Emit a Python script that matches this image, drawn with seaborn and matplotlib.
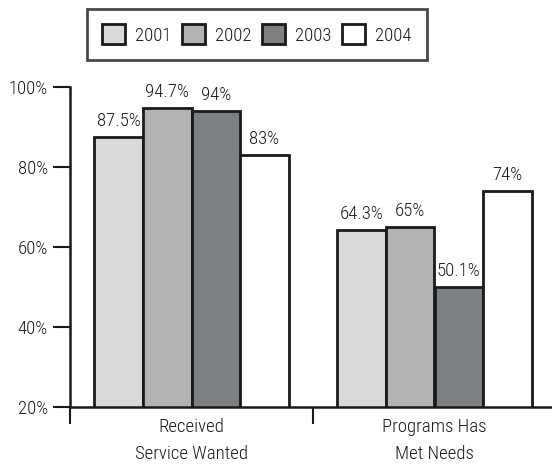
import matplotlib
matplotlib.use("Agg")
import matplotlib.pyplot as plt
from matplotlib import font_manager
from matplotlib.patches import Patch
import seaborn as sns
import pandas as pd

categories = ["Received\nService Wanted", "Programs Has\nMet Needs"]
years = ["2001", "2002", "2003", "2004"]
received = [87.5, 94.7, 94, 83]
met_needs = [64.3, 65, 50.1, 74]
colors = ["#d9d9db", "#b2b3b5", "#7d8083", "#ffffff"]
yticks = [20, 40, 60, 80, 100]

sns.set_theme(style="white")
names = {f.name for f in font_manager.fontManager.ttflist}
preferred = ["Liberation Sans Narrow", "Arial Narrow", "Nimbus Sans Narrow",
             "Helvetica Condensed", "Roboto Condensed", "Archivo Narrow",
             "PT Sans Narrow", "Pragati Narrow", "Open Sans Condensed",
             "Fira Sans Condensed", "IBM Plex Sans Condensed", "Encode Sans Condensed",
             "Asap Condensed", "Barlow Semi Condensed", "Liberation Sans"]
fam = next(n for n in preferred if n in names)
plt.rcParams["font.family"] = [fam, "DejaVu Sans"]
plt.rcParams["font.weight"] = "light"
ink = "#1a1a1a"
fs = 13.5

rows = []
for cat, vals in zip(categories, [received, met_needs]):
    for yr, v in zip(years, vals):
        rows.append({"category": cat, "year": yr, "value": v})
df = pd.DataFrame(rows)

fig = plt.figure(figsize=(5.52, 4.65), dpi=100)
ax = fig.add_axes([70 / 552, 58 / 465, 486 / 552, 320 / 465])

sns.barplot(data=df, x="category", y="value", hue="year", hue_order=years,
            palette=colors, order=categories, width=0.8, saturation=1,
            edgecolor=ink, linewidth=2, legend=False, ax=ax)

for cont in ax.containers:
    ax.bar_label(cont, labels=[f"{v:g}%" for v in cont.datavalues],
                 padding=5, fontsize=fs, color=ink)

ax.set_ylim(20, 100)
ax.set_xlim(-0.5, 1.5)
ax.set_yticks(yticks)
ax.set_yticklabels([f"{t}%" for t in yticks], fontsize=fs, color=ink)
ax.set_xticks([0, 1])
ax.set_xticklabels(categories, fontsize=fs, color=ink, linespacing=1.6)
ax.set_xticks([-0.5, 0.5, 1.5], minor=True)
ax.tick_params(axis="x", which="major", bottom=True, length=0, pad=8)
ax.tick_params(axis="x", which="minor", bottom=True, length=12, width=1.5,
               color=ink, direction="out")
ax.tick_params(axis="y", which="major", left=True, length=12, width=1.5,
               color=ink, direction="out", pad=4)
ax.set_xlabel("")
ax.set_ylabel("")
for side in ["top", "right"]:
    ax.spines[side].set_visible(False)
for side in ["left", "bottom"]:
    ax.spines[side].set_linewidth(1.8)
    ax.spines[side].set_color(ink)
ax.grid(False)

handles = [Patch(facecolor=c, edgecolor=ink, linewidth=2, label=y)
           for c, y in zip(colors, years)]
leg = fig.legend(handles=handles, loc="center", bbox_to_anchor=(256.5 / 552, 1 - 34.5 / 465),
                 ncol=4, frameon=True, fancybox=False, fontsize=fs,
                 handlelength=1.23, handleheight=1.23, handletextpad=0.53,
                 columnspacing=0.56, borderpad=0.82, borderaxespad=0)
leg.get_frame().set_edgecolor(ink)
leg.get_frame().set_linewidth(2)
for t in leg.get_texts():
    t.set_color(ink)

fig.savefig("out.png", dpi=100)
